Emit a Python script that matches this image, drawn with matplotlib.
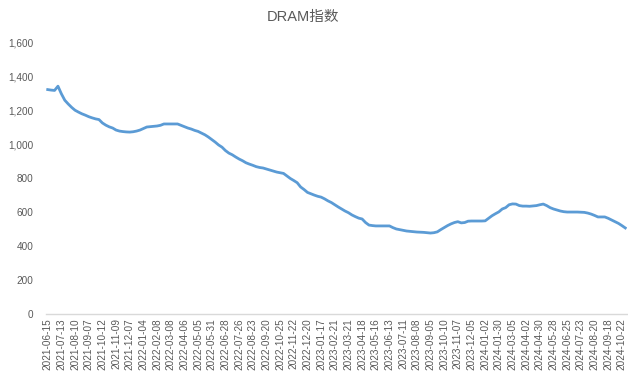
import matplotlib
matplotlib.use("Agg")
import matplotlib.pyplot as plt
from matplotlib.ticker import FuncFormatter

plt.rcParams['font.family'] = ['Liberation Sans', 'Noto Sans CJK SC', 'DejaVu Sans']

# 周度 DRAM 指数
dram_index = [
    1325, 1322, 1320, 1345, 1300, 1262, 1240, 1220, 1203, 1192,
    1182, 1174, 1165, 1158, 1152, 1148, 1128, 1115, 1105, 1098,
    1086, 1080, 1077, 1075, 1074, 1076, 1080, 1086, 1095, 1104,
    1106, 1108, 1110, 1114, 1122, 1122, 1122, 1122, 1122, 1114,
    1106, 1098, 1092, 1084, 1078, 1068, 1058, 1045, 1030, 1015,
    998, 985, 965, 950, 940, 927, 915, 905, 893, 885,
    878, 870, 865, 862, 856, 850, 844, 838, 834, 830,
    815, 800, 788, 775, 750, 735, 718, 710, 702, 695,
    690, 680, 668, 658, 645, 632, 620, 608, 598, 585,
    575, 566, 561, 540, 525, 522, 520, 520, 520, 520,
    520, 510, 502, 498, 494, 490, 488, 486, 484, 483,
    482, 480, 478, 480, 485, 498, 510, 522, 532, 540,
    545, 538, 540, 548, 549, 549, 549, 549, 550, 565,
    580, 592, 603, 620, 628, 645, 650, 649, 640, 637,
    637, 636, 638, 640, 645, 649, 640, 628, 620, 614,
    608, 604, 602, 602, 602, 602, 601, 600, 596, 590,
    582, 573, 573, 573, 565, 555, 545, 535, 522, 508,
]

# 横轴每隔 4 期显示一个日期
date_labels = [
    "2021-06-15", "2021-07-13", "2021-08-10", "2021-09-07", "2021-10-12",
    "2021-11-09", "2021-12-07", "2022-01-04", "2022-02-08", "2022-03-08",
    "2022-04-06", "2022-05-05", "2022-05-31", "2022-06-28", "2022-07-26",
    "2022-08-23", "2022-09-20", "2022-10-25", "2022-11-22", "2022-12-20",
    "2023-01-17", "2023-02-21", "2023-03-21", "2023-04-18", "2023-05-16",
    "2023-06-13", "2023-07-11", "2023-08-08", "2023-09-05", "2023-10-10",
    "2023-11-07", "2023-12-05", "2024-01-02", "2024-01-30", "2024-03-05",
    "2024-04-02", "2024-04-30", "2024-05-28", "2024-06-25", "2024-07-23",
    "2024-08-20", "2024-09-18", "2024-10-22",
]
label_step = 4

text_color = "#595959"

fig = plt.figure(figsize=(6.28, 3.78), dpi=100)
ax = fig.add_axes([46 / 628, 64 / 378, 581 / 628, 271 / 378])

x = list(range(len(dram_index)))
ax.plot(x, dram_index, color="#5B9BD5", linewidth=2.0, solid_joinstyle="round")

ax.set_xlim(-0.5, len(dram_index) - 0.5)
ax.set_ylim(0, 1600)
ax.set_yticks(range(0, 1601, 200))
ax.yaxis.set_major_formatter(FuncFormatter(lambda v, p: f"{int(v):,}"))

ax.set_xticks(range(0, len(date_labels) * label_step, label_step))
ax.set_xticklabels(date_labels, rotation=90)

ax.tick_params(axis="both", length=0, labelsize=7.2, colors=text_color)
ax.tick_params(axis="y", pad=9)
ax.tick_params(axis="x", pad=3)

for side in ["top", "right", "left"]:
    ax.spines[side].set_visible(False)
ax.spines["bottom"].set_color("#D9D9D9")
ax.spines["bottom"].set_linewidth(1.0)

fig.text(303 / 628, 1 - 17 / 378, "DRAM指数", ha="center", va="center",
         fontsize=10.5, color=text_color)

fig.savefig("out.png", dpi=100)
